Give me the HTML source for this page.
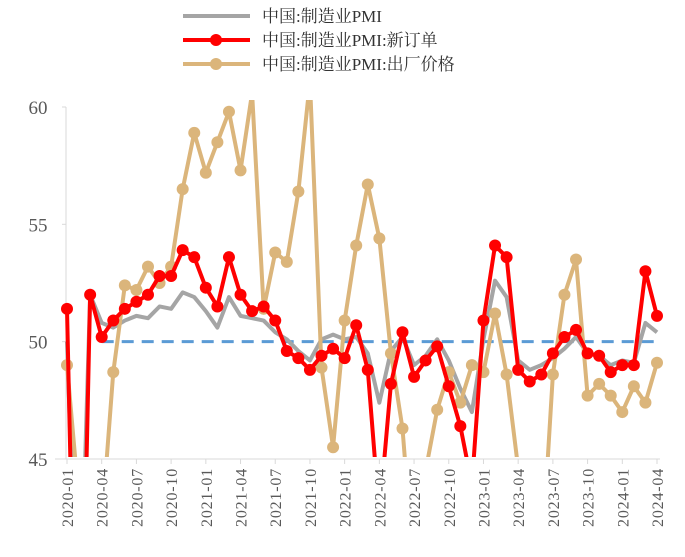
<!DOCTYPE html>
<html><head><meta charset="utf-8"><style>
html,body{margin:0;background:#fff;width:685px;height:557px;overflow:hidden;font-family:"Liberation Serif","Noto Serif CJK SC",serif;}
svg{display:block;}
</style></head><body>
<svg id="c" width="685" height="557" xmlns="http://www.w3.org/2000/svg">
<g font-family="Liberation Serif, Noto Serif CJK SC, serif" font-size="17" fill="#333">
<g><line x1="183" y1="16" x2="250" y2="16" stroke="#a5a5a5" stroke-width="4"/><text x="262" y="22">中国:制造业PMI</text></g>
<g><line x1="183" y1="40" x2="250" y2="40" stroke="#ff0000" stroke-width="4"/><circle cx="216" cy="40" r="6" fill="#ff0000"/><text x="262" y="46">中国:制造业PMI:新订单</text></g>
<g><line x1="183" y1="64" x2="250" y2="64" stroke="#dbb57b" stroke-width="4"/><circle cx="216" cy="64" r="6" fill="#dbb57b"/><text x="262" y="70">中国:制造业PMI:出厂价格</text></g>
</g>
<defs><clipPath id="pc"><rect x="55" y="100" width="620" height="357"/></clipPath></defs>
<g id="axes"></g>
<g id="marks" clip-path="url(#pc)"></g>
</svg>
<script>
const months=[];for(let y=2020;y<=2024;y++)for(let m=1;m<=12;m++){if(y===2024&&m>4)break;months.push(y+'-'+String(m).padStart(2,'0'));}
const pmi=[50.0,35.7,52.0,50.8,50.6,50.9,51.1,51.0,51.5,51.4,52.1,51.9,51.3,50.6,51.9,51.1,51.0,50.9,50.4,50.1,49.6,49.2,50.1,50.3,50.1,50.2,49.5,47.4,49.6,50.2,49.0,49.4,50.1,49.2,48.0,47.0,50.1,52.6,51.9,49.2,48.8,49.0,49.3,49.7,50.2,49.5,49.4,49.0,49.2,49.1,50.8,50.4];
const newOrders=[51.4,29.3,52.0,50.2,50.9,51.4,51.7,52.0,52.8,52.8,53.9,53.6,52.3,51.5,53.6,52.0,51.3,51.5,50.9,49.6,49.3,48.8,49.4,49.7,49.3,50.7,48.8,42.6,48.2,50.4,48.5,49.2,49.8,48.1,46.4,43.9,50.9,54.1,53.6,48.8,48.3,48.6,49.5,50.2,50.5,49.5,49.4,48.7,49.0,49.0,53.0,51.1];
const outputPrice=[49.0,43.4,43.3,42.2,48.7,52.4,52.2,53.2,52.5,53.2,56.5,58.9,57.2,58.5,59.8,57.3,60.6,51.4,53.8,53.4,56.4,61.1,48.9,45.5,50.9,54.1,56.7,54.4,49.5,46.3,40.1,44.5,47.1,48.7,47.4,49.0,48.7,51.2,48.6,44.6,41.6,40.5,48.6,52.0,53.5,47.7,48.2,47.7,47.0,48.1,47.4,49.1];
const yTicks=[45,50,55,60];
const NS='http://www.w3.org/2000/svg';
const x=i=>67+i*(657-67)/(months.length-1);
const y=v=>459-(v-45)*(459-107)/15;
function mk(t,a,p){const e=document.createElementNS(NS,t);for(const k in a)e.setAttribute(k,a[k]);p.appendChild(e);return e;}
const ax=document.getElementById('axes'),mg=document.getElementById('marks');
const yl=mk('line',{x1:66,y1:107,x2:66,y2:459,stroke:'#d9d9d9','stroke-width':1},ax);


const xl=mk('line',{x1:55,y1:459,x2:660,y2:459,stroke:'#d9d9d9','stroke-width':1},ax);


yTicks.forEach(v=>{const t=mk('text',{x:38,y:y(v)+7,'text-anchor':'middle','font-size':'19',fill:'#595959'},ax);t.textContent=v;


mk('line',{x1:62,y1:y(v),x2:66,y2:y(v),stroke:'#d9d9d9'},ax);});
months.forEach((m,i)=>{if(i%3!==0)return;mk('line',{x1:x(i),y1:459,x2:x(i),y2:464,stroke:'#d9d9d9'},ax);
const t=mk('text',{x:0,y:0,'text-anchor':'end','font-size':'16','letter-spacing':'0.8',fill:'#595959',transform:`translate(${x(i)+6},468) rotate(-90)`},ax);t.textContent=m;

});
const ref=mk('line',{x1:x(3),y1:y(50),x2:x(51),y2:y(50),stroke:'#5b9bd5','stroke-width':3,'stroke-dasharray':'12,8'},mg);


function series(d,col,name,dots){const g=mk('g',{},mg);


mk('polyline',{points:d.map((v,i)=>x(i)+','+y(v)).join(' '),fill:'none',stroke:col,'stroke-width':4,'stroke-linejoin':'round'},g);
if(dots)d.forEach((v,i)=>{const c=mk('circle',{cx:x(i),cy:y(v),r:6,fill:col},g);

});}
series(pmi,'#a5a5a5','pmi-line',false);
series(outputPrice,'#dbb57b','output-price-line',true);
series(newOrders,'#ff0000','new-orders-line',true);
</script>
</body></html>
